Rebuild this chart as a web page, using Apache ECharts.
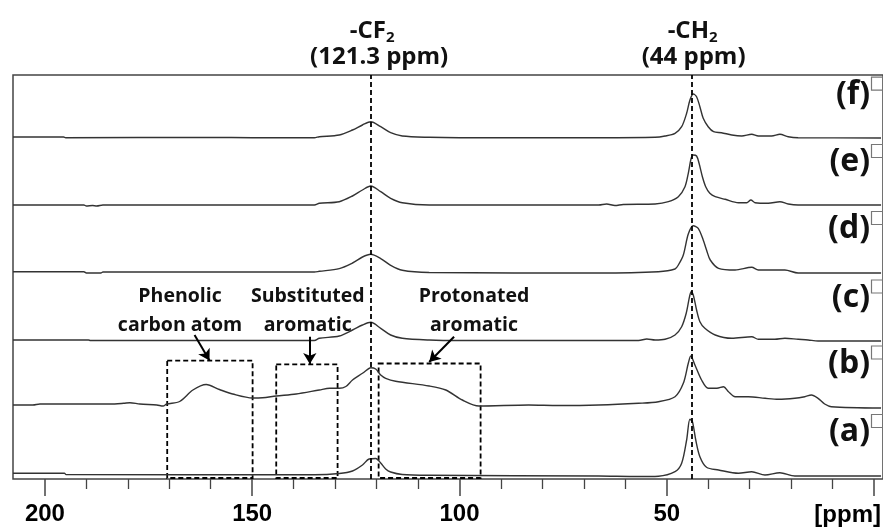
<!DOCTYPE html>
<html>
<head>
<meta charset="utf-8">
<script src="https://cdn.jsdelivr.net/npm/echarts@6/dist/echarts.min.js"></script>
<style>
  html, body { margin: 0; padding: 0; background: #fff; }
  #chart { width: 883px; height: 527px; }
</style>
</head>
<body>
<div id="chart"></div>
<script>
// ---- axis -------------------------------------------------------------
const shiftMax = 207.7;            // ppm at the left edge (axis runs high -> low)
const shiftMin = -2.17;            // ppm at the right edge
const majorTicks = [0, 50, 100, 150, 200];
const tickLabels = [50, 100, 150, 200];
const minorTicks = [10, 20, 30, 40, 60, 70, 80, 90, 110, 120, 130, 140, 160, 170, 180, 190];
const axisUnit = '[ppm]';

// ---- stacked 13C spectra: [ppm, intensity above own baseline] ----------
const traceNames = ['(a)', '(b)', '(c)', '(d)', '(e)', '(f)'];
const traceOffsets = [4, 72.5, 138.5, 207, 274, 341.3];

const spectrumA = [
  [207.7,1.7],[195.3,1.7],[194.9,0.5],[135,0.3],[129.0,1.5],[125.8,4],[123.4,10],[121.8,16],
  [120.2,16.5],[119.0,12],[117.8,6],[116.6,3],[113.8,0.5],[107.3,-0.3],[66.4,-1],[56.8,-1.5],
  [52.0,-1.2],[48.0,3.3],[46.4,11.7],[45.2,35],[44.4,55.7],[43.8,53.3],[43.0,35],[42.0,18.3],
  [40.4,7.7],[37.5,5],[32.7,1.7],[29.5,3.3],[26.3,0],[22.7,2.3],[19.1,-1],[-1.7,-1]
];
const spectrumB = [
  [207.7,1.5],[202.9,1.5],[201.2,2.5],[184.3,2.5],[181,3.2],[179.5,3.8],[177.1,2.5],[173.0,1.5],
  [171.5,0.5],[170.6,2.5],[167.5,5],[164.3,16.5],[161.1,22],[157.9,17],[154.7,12.5],[149.9,8.5],
  [147.5,8.8],[144.2,10.5],[139.4,12.5],[133.8,16.5],[131.3,18.2],[129.0,18.2],[127.4,20],
  [125.8,26.5],[123.4,33.2],[121.8,38.2],[121.4,38.8],[120.2,37.5],[119.0,31.5],[117.8,28.2],
  [115.4,25.3],[107.3,20.5],[103.3,16.5],[99.3,6.5],[95.3,0.5],[83.3,1.5],[76.1,1.0],[66.4,1.5],
  [56.8,3.2],[52.0,4.8],[48.0,9.8],[46.0,23.2],[44.8,43.2],[44.2,50.5],[43.2,41.5],[41.6,26.5],
  [40.0,18.2],[37.9,18.2],[36.3,19.8],[35.1,14.8],[33.5,9.8],[30.3,9.8],[26.3,8.2],[23.1,7.2],
  [19.1,8.2],[16.7,9.8],[15.1,11.5],[13.5,8.2],[11.9,2.5],[10.3,-0.2],[-1.7,-1.5]
];
const spectrumC = [
  [207.7,0.5],[189.5,0.5],[189.0,0],[135,0],[133.8,2.2],[129.0,4.5],[125.8,10.5],[123.4,15.5],
  [121.4,18.2],[119.0,12.2],[116.6,5.5],[113.8,2.2],[107.3,0.5],[100,0],[56.8,0],[54.8,1.5],
  [52.8,0.5],[50.4,1.2],[48.0,5.5],[46.4,13.8],[45.3,27.2],[44.5,43.8],[44.1,48.8],[43.6,45.5],
  [42.8,30.5],[42.0,18.8],[40.8,12.2],[38.3,5.5],[34.3,2.2],[29.5,3.8],[27.9,1.2],[23.9,1.2],
  [21.5,2.2],[18.3,1.2],[15.9,0.5],[13.5,-0.5],[-1.7,-0.5]
];
const spectrumD = [
  [207.7,0.3],[190.6,0.3],[190.0,-1],[186.5,-1],[186,0],[135,0],[133.8,0.7],[129.0,3.4],
  [125.8,9],[123.4,15],[121.4,17.7],[119.0,13.4],[116.6,6.7],[113.8,1.7],[107.3,-0.5],[66.4,-1],
  [52.0,0.3],[48.0,3],[47.2,7],[46.0,17],[44.8,38],[43.6,46.3],[42.4,43.7],[41.2,32],[40.4,22],
  [39.5,12],[37.5,3.7],[33.5,2],[29.5,4.7],[27.9,2],[21.5,2],[18.3,-1],[-1.7,-1]
];
const spectrumE = [
  [207.7,0],[190.6,0],[190.0,-1],[188.5,-0.5],[187.5,-1],[186,0],[135,0],[133.8,1.7],[129.0,3.3],
  [125.8,9],[123.4,15],[121.4,19],[119.0,13.3],[116.6,6.7],[113.8,2.3],[107.3,0],[66.4,0],
  [64.5,1],[62.5,-0.5],[60.5,0.5],[52.8,1],[49.6,3.3],[47.2,8.3],[45.6,18.3],[44.8,31.7],
  [44.1,46.7],[43.6,50],[42.8,49],[42.2,41.7],[41.4,28.3],[40.6,18.3],[39.6,11.7],[38.3,8.3],
  [35.9,5.7],[32.7,2.3],[30.7,2.3],[29.7,5],[28.7,2.3],[25.5,1.7],[22.7,3.3],[20.7,1],[18.3,0],
  [-1.7,0]
];
const spectrumF = [
  [207.7,0.7],[195.5,0.7],[195.0,0],[160,0.3],[150,0],[135,0],[133.8,1.0],[129.0,2.7],[125.8,7.7],
  [123.4,12.7],[121.4,16],[119.0,11],[116.6,5],[113.8,1.7],[107.3,0.4],[100,0],[66.4,0],
  [52.8,0.4],[50.4,1.7],[48.0,4.4],[46.4,11],[45.2,24.4],[44.4,37.7],[43.6,43.7],[42.8,41],
  [42.0,31],[41.2,19.4],[40.0,11],[38.7,6],[36.8,5],[34.3,2.7],[31.9,1.7],[29.5,3.4],[27.9,1.7],
  [24.7,1.7],[22.7,3.4],[20.7,1],[18.3,0],[-1.7,-0.3]
];
const spectra = [spectrumA, spectrumB, spectrumC, spectrumD, spectrumE, spectrumF];

// ---- reference peaks ----------------------------------------------------
const refShifts = [121.3, 44];
const refGroups = [['-CF', '2'], ['-CH', '2']];
const refValues = ['(121.3 ppm)', '(44 ppm)'];

// ---- highlighted regions of spectrum (b): [high ppm, low ppm, top] -------
const regionBoxes = [[170.5, 149.9, 118.3], [144.2, 129.4, 114.7], [119.5, 94.9, 115.5]];
const regionTitles = [['Phenolic', 'carbon atom'], ['Substituted', 'aromatic'], ['Protonated', 'aromatic']];
const regionTitleShift = [167.4, 136.6, 96.5];
const regionTitleLevels = [183, 154];
// arrows: [from ppm, from level, to ppm, to level]
const regionArrows = [[163.9, 144, 160.3, 118.5], [136.1, 142.3, 136.1, 115], [101.3, 142.3, 107.3, 117]];

const LINE = '#333';
const FRAME = '#444';
const TXT = '#111';
const FAM = '"Open Sans", "Noto Sans", sans-serif';

const chart = echarts.init(document.getElementById('chart'), null, { renderer: 'canvas' });

const series = spectra.map((pts, i) => ({
  type: 'line',
  name: traceNames[i],
  data: pts.map(p => [p[0], p[1] + traceOffsets[i]]),
  showSymbol: false,
  smooth: 0.3,
  silent: true,
  z: 2,
  lineStyle: { color: LINE, width: 1.4 }
}));

// reference lines and arrows ride on spectrum (a); boxes on spectrum (b)
series[0].markLine = {
  silent: true,
  animation: false,
  symbol: ['none', 'none'],
  label: { show: false },
  data: refShifts.map(s => ({ xAxis: s, lineStyle: { color: '#000', width: 1.8, type: [5, 3] } }))
    .concat(regionArrows.map(a => [
      { coord: [a[0], a[1]], symbol: 'none', lineStyle: { color: '#000', width: 2, type: 'solid' } },
      { coord: [a[2], a[3]], symbol: 'arrow', symbolSize: [10, 11] }
    ]))
};
series[1].markArea = {
  silent: true,
  animation: false,
  itemStyle: { color: 'rgba(0,0,0,0)', borderColor: '#000', borderWidth: 1.8, borderType: [5, 3] },
  label: { show: false },
  data: regionBoxes.map(b => [{ coord: [b[0], b[2]] }, { coord: [b[1], 1] }])
};

chart.setOption({
  animation: false,
  backgroundColor: '#fff',
  grid: { left: 13, right: -2, top: 75, bottom: 48, show: true, borderColor: FRAME, borderWidth: 1.5 },
  xAxis: [{
    type: 'value', inverse: true, min: shiftMin, max: shiftMax,
    axisLine: { show: false }, splitLine: { show: false },
    axisTick: { show: true, customValues: majorTicks, length: 17, lineStyle: { color: FRAME, width: 1.5 } },
    axisLabel: {
      customValues: tickLabels, margin: 23, color: '#000',
      fontFamily: '"Liberation Sans", Arial, sans-serif', fontWeight: 'bold', fontSize: 24
    }
  }, {
    type: 'value', inverse: true, min: shiftMin, max: shiftMax, position: 'bottom',
    axisLine: { show: false }, splitLine: { show: false }, axisLabel: { show: false },
    axisTick: { show: true, customValues: minorTicks, length: 10, lineStyle: { color: FRAME, width: 1.3 } }
  }],
  yAxis: { type: 'value', min: 0, max: 404, show: false },
  series: series
});

// ---- text annotations ----------------------------------------------------
const ctx = document.createElement('canvas').getContext('2d');
function textWidth(t, font) { ctx.font = font; return ctx.measureText(t).width; }
const px = (ppm, v) => chart.convertToPixel({ gridIndex: 0 }, [ppm, v]);

const g = [];
function addText(t, x, y, size, align) {
  g.push({
    type: 'text', x: x, y: y, silent: true, z: 10,
    style: { text: t, font: `bold ${size}px ${FAM}`, fill: TXT, align: align || 'center', verticalAlign: 'middle' }
  });
}

// peak names with subscripts, and their shifts
const refLine2Shift = [8, 2];
refShifts.forEach((s, i) => {
  const cx = px(s, 0)[0];
  const f1 = `bold 24px ${FAM}`, f2 = `bold 15px ${FAM}`;
  const w1 = textWidth(refGroups[i][0], f1), w2 = textWidth(refGroups[i][1], f2);
  const left = cx + 1 - (w1 + w2) / 2;
  addText(refGroups[i][0], left, 31, 24, 'left');
  addText(refGroups[i][1], left + w1, 38, 15, 'left');
  addText(refValues[i], cx + refLine2Shift[i], 57, 24, 'center');
});

// region captions
regionTitles.forEach((lines, i) => {
  lines.forEach((t, j) => {
    const p = px(regionTitleShift[i], regionTitleLevels[j]);
    addText(t, p[0], p[1], 19.5, 'center');
  });
});

// spectrum names with their little tabs at the right edge
traceNames.forEach((n, i) => {
  const yc = px(0, traceOffsets[i] + 43)[1];
  addText(n, 870, yc, 32, 'right');
  const top = Math.max(76, yc - 17.5);
  g.push({ type: 'rect', silent: true, z: 9,
    shape: { x: 871.5, y: top, width: 20, height: 13 },
    style: { fill: 'none', stroke: '#777', lineWidth: 1.2 } });
});

// axis unit in place of the zero label
g.push({ type: 'text', x: 881, y: 515, silent: true, z: 10,
  style: { text: axisUnit, font: 'bold 24px "Liberation Sans", Arial, sans-serif', fill: '#000',
           align: 'right', verticalAlign: 'middle' } });

chart.setOption({ graphic: g });
</script>
</body>
</html>
